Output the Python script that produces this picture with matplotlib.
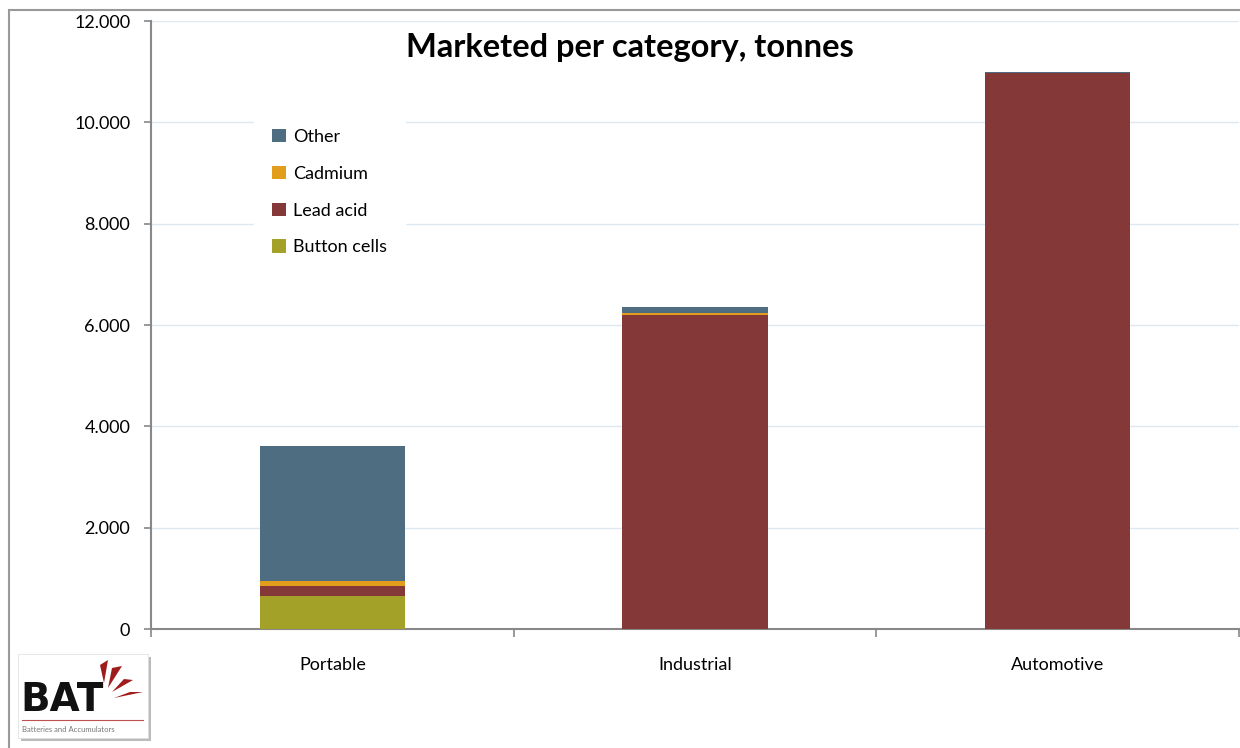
import matplotlib
matplotlib.use("Agg")
import matplotlib.pyplot as plt
from matplotlib.patches import Rectangle, Polygon
from matplotlib.ticker import FuncFormatter

categories = ["Portable", "Industrial", "Automotive"]
button_cells = [655, 0, 0]
lead_acid = [200, 6190, 10975]
cadmium = [92, 42, 0]
other = [2660, 125, 15]

colors = {
    "Button cells": "#a4a128",
    "Lead acid": "#843838",
    "Cadmium": "#e39d1c",
    "Other": "#4f6d80",
}

plt.rcParams['font.family'] = ['Lato', 'DejaVu Sans']

fig = plt.figure(figsize=(12.4, 7.48), dpi=100)
ax = fig.add_axes([151 / 1240, 1 - 629 / 748, 1088 / 1240, 608 / 748])

x = range(len(categories))
w = 0.4
bottom = [0, 0, 0]
handles = {}
for name, vals in [("Button cells", button_cells), ("Lead acid", lead_acid),
                   ("Cadmium", cadmium), ("Other", other)]:
    b = ax.bar(x, vals, w, bottom=bottom, color=colors[name], label=name, zorder=3)
    handles[name] = b
    bottom = [bottom[i] + vals[i] for i in range(len(vals))]

ax.set_ylim(0, 12000)
ax.set_xlim(-0.5, 2.5)
ax.set_yticks(range(0, 12001, 2000))
ax.yaxis.set_major_formatter(FuncFormatter(lambda v, p: f"{v:,.0f}".replace(",", ".")))
ax.grid(axis="y", color="#dde8f0", linewidth=1, zorder=0)
ax.set_axisbelow(True)

ax.set_xticks([-0.5, 0.5, 1.5, 2.5])
ax.set_xticklabels([])
ax.set_xticks(list(x), minor=True)
ax.set_xticklabels(categories, minor=True)
ax.tick_params(axis="x", which="minor", length=0, pad=20, labelsize=13)
ax.tick_params(axis="x", which="major", length=6, color="#888888", width=1.2)
ax.tick_params(axis="y", length=5, color="#888888", width=1.2, labelsize=13, pad=10)

for s in ["top", "right"]:
    ax.spines[s].set_visible(False)
for s in ["left", "bottom"]:
    ax.spines[s].set_color("#888888")
    ax.spines[s].set_linewidth(1.5)

order = ["Other", "Cadmium", "Lead acid", "Button cells"]
leg = ax.legend([handles[n] for n in order], order, loc="upper left",
                bbox_to_anchor=(0.095, 0.852), frameon=True, fontsize=13,
                labelspacing=1.15, handlelength=0.75, handleheight=0.75,
                handletextpad=0.4, borderpad=1.0, borderaxespad=0)
leg.get_frame().set_edgecolor("white")
leg.get_frame().set_facecolor("white")
leg.get_frame().set_alpha(1)
leg.set_zorder(5)

fig.text(0.508, 1 - 48 / 748, "Marketed per category, tonnes", ha="center", va="center",
         fontsize=23.5, fontweight="bold", zorder=6,
         bbox=dict(facecolor="white", edgecolor="none", pad=6))

# figure border
fig.patches.append(Rectangle((9 / 1240, -0.1), 1.2, 1 - 10 / 748 + 0.1, transform=fig.transFigure,
                             fill=False, edgecolor="#999999", linewidth=1.5))

# logo
fig.patches.append(Rectangle((21 / 1240, 1 - 741 / 748), 130 / 1240, 84 / 748, transform=fig.transFigure,
                             facecolor="#bbbbbb", edgecolor="none"))
fig.patches.append(Rectangle((18 / 1240, 1 - 738 / 748), 130 / 1240, 84 / 748, transform=fig.transFigure,
                             facecolor="white", edgecolor="#dddddd", linewidth=0.5))
fig.text(20 / 1240, 1 - 700 / 748, "BAT", fontsize=28, fontweight="bold", color="#111111",
         va="center", ha="left", family="DejaVu Sans")
fig.text(22 / 1240, 1 - 730 / 748, "Batteries and Accumulators", fontsize=5.5, color="#777777",
         va="center", ha="left")
fig.lines.append(plt.Line2D([22 / 1240, 143 / 1240], [1 - 720 / 748, 1 - 720 / 748],
                            transform=fig.transFigure, color="#c05050", linewidth=0.8))
rays = [
    [(100, 665), (108, 660), (104, 683)],
    [(112, 668), (122, 666), (108, 688)],
    [(124, 679), (133, 680), (112, 692)],
    [(130, 692), (143, 692), (114, 698)],
]
for r in rays:
    fig.patches.append(Polygon([(px / 1240, 1 - py / 748) for px, py in r], closed=True,
                               transform=fig.transFigure, facecolor="#a01c1c", edgecolor="none"))

fig.savefig("out.png", dpi=100)
